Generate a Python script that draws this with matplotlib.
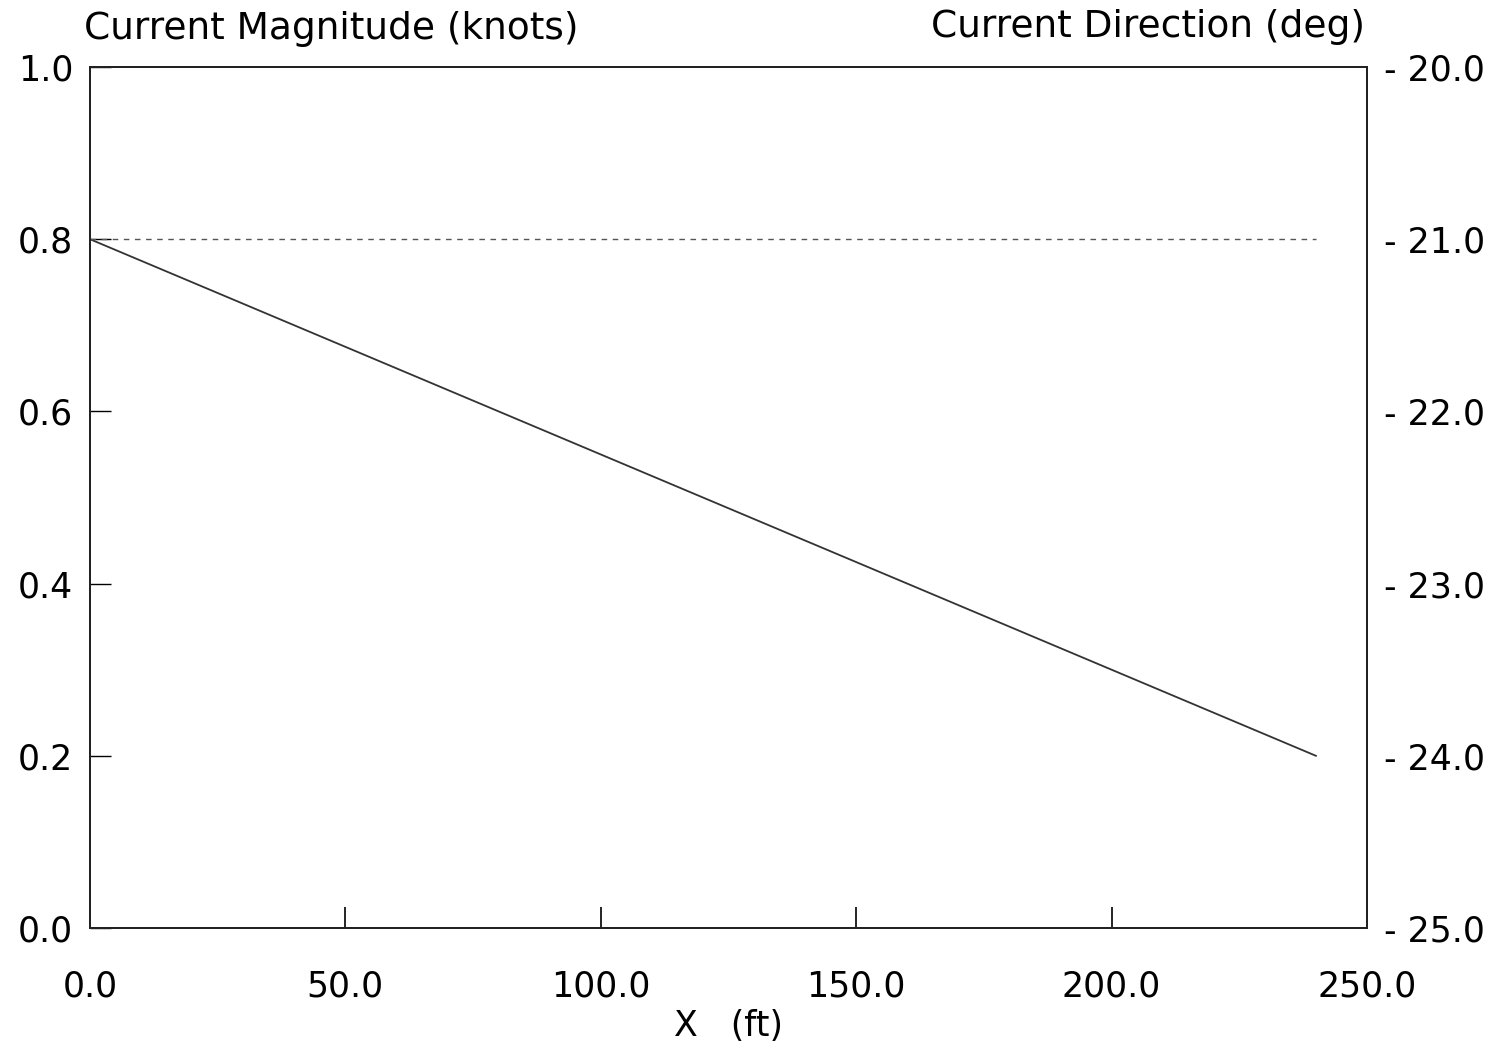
import matplotlib
matplotlib.use("Agg")
import matplotlib.pyplot as plt

plt.rcParams['font.family'] = ['DejaVu Sans']

x_ft = [0.0, 240.0]
magnitude_knots = [0.8, 0.2]
direction_deg = [-21.0, -21.0]

x_ticks = [0, 50, 100, 150, 200, 250]
x_tick_labels = ["0.0", "50.0", "100.0", "150.0", "200.0", "250.0"]
mag_ticks = [0.0, 0.2, 0.4, 0.6, 0.8, 1.0]
mag_tick_labels = ["0.0", "0.2", "0.4", "0.6", "0.8", "1.0"]
dir_ticks = [-25.0, -24.0, -23.0, -22.0, -21.0, -20.0]
dir_tick_labels = ["- 25.0", "- 24.0", "- 23.0", "- 22.0", "- 21.0", "- 20.0"]

fig = plt.figure(figsize=(15.07, 10.42), dpi=100)
ax = fig.add_axes([0.0597, 0.1094, 0.9071 - 0.0597, 0.9357 - 0.1094])
ax2 = ax.twinx()

ax.plot(x_ft, magnitude_knots, color='#333333', lw=1.3)
ax2.plot(x_ft, direction_deg, color='#555555', lw=1.0, linestyle=(0, (4, 4)))

ax.set_xlim(0, 250)
ax.set_ylim(0, 1.0)
ax2.set_ylim(-25.0, -20.0)

fs = 25
ax.set_xticks(x_ticks)
ax.set_xticklabels(x_tick_labels, fontsize=fs)
ax.set_yticks(mag_ticks)
ax.set_yticklabels(mag_tick_labels, fontsize=fs)
ax2.set_yticks(dir_ticks)
ax2.set_yticklabels(dir_tick_labels, fontsize=fs)

ax.tick_params(axis='x', direction='in', length=15, width=1.2, pad=30)
ax.tick_params(axis='y', direction='in', length=15, width=1.0, pad=12)
ax2.tick_params(axis='y', direction='in', length=0, pad=12)

for a in (ax, ax2):
    for s in a.spines.values():
        s.set_linewidth(1.4)
        s.set_color('#222222')

ax.set_xlabel("X   (ft)", fontsize=fs, labelpad=4)
fig.text(0.056, 0.955, "Current Magnitude (knots)", fontsize=27, ha='left', va='bottom')
fig.text(0.906, 0.957, "Current Direction (deg)", fontsize=27, ha='right', va='bottom')

fig.savefig("out.png", dpi=100)
